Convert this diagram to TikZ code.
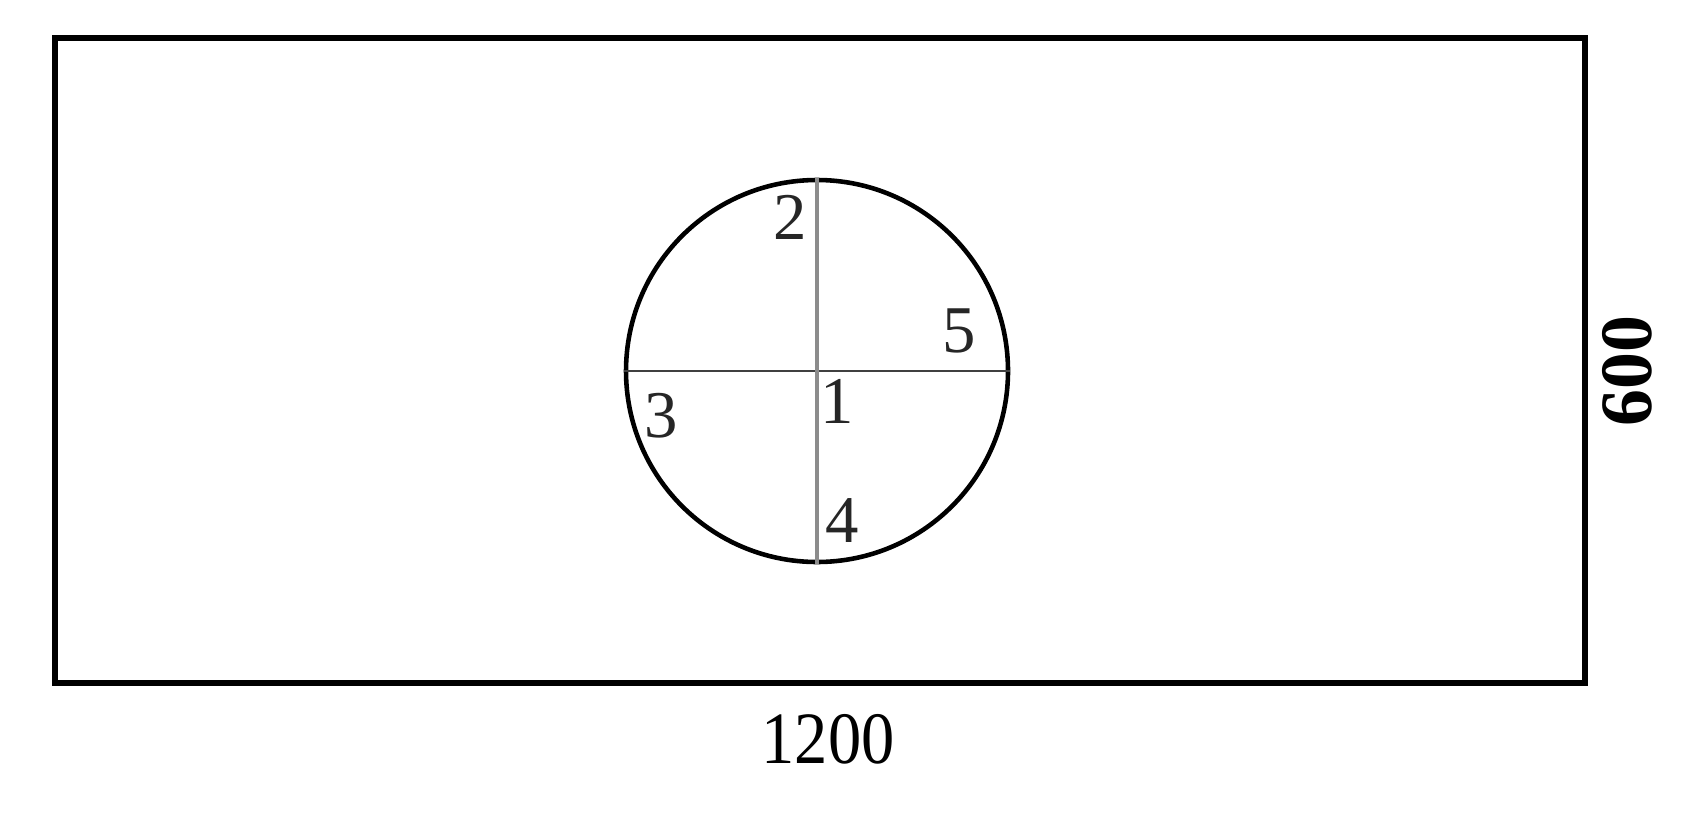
\documentclass[tikz,border=0pt]{standalone}
\usepackage{fontspec}
\setmainfont{Liberation Serif}
\usepackage{tikz}

\tikzset{
  frame/.style={line width=1.5pt, draw=black},
  zone/.style={draw=black, line width=1.3pt, circle, inner sep=0pt, minimum size=38.2mm},
  num/.style={inner sep=0pt, font=\fontsize{19}{19}\selectfont, text=black!85},
  dimlabel/.style={inner sep=0pt, font=\fontsize{21}{21}\selectfont}
}

\begin{document}
\begin{tikzpicture}[x=0.1mm, y=-0.1mm]
\useasboundingbox (0,0) rectangle (1708,816);
% plate
\draw[frame] (55,38) rectangle (1585,683);
\coordinate (P-nw) at (55,38);
\coordinate (P-se) at (1585,683);
% circle with its two chords
\node[zone] (C) at (817,371) {};
\draw[black!75, line width=0.7pt] (C.west) -- (C.east);
\draw[black!45, line width=0.9pt] (C.north) -- (C.south);
% point numbers
\node[num] (N-1) at (837,401) {1};
\node[num] (N-2) at (790,217) {2};
\node[num] (N-3) at (661,416) {3};
\node[num] (N-4) at (842,521) {4};
\node[num] (N-5) at (959,331) {5};
% sizes
\node[dimlabel, xscale=0.9] (L-w) at (828,739) {1200};
\node[dimlabel, font=\fontsize{21}{21}\selectfont\bfseries, rotate=90] (L-h) at (1627,371) {600};
\end{tikzpicture}
\end{document}
